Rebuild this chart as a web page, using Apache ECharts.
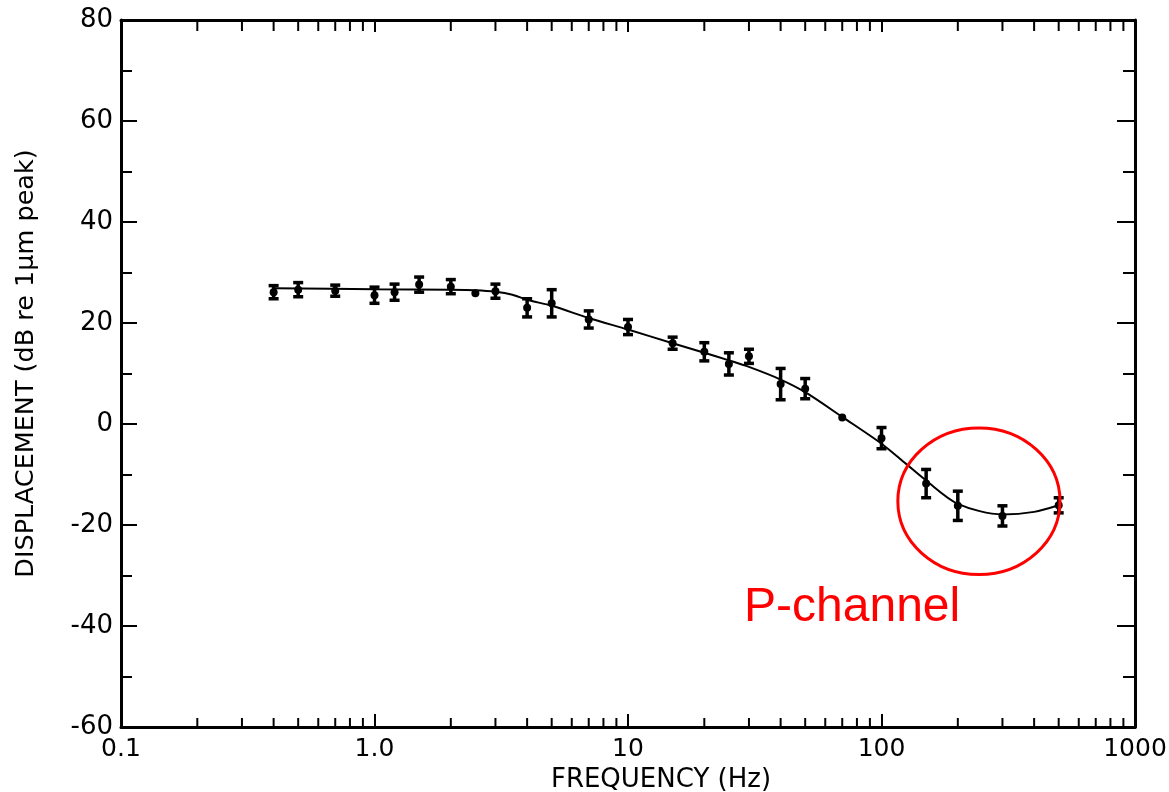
<!DOCTYPE html>
<html>
<head>
<meta charset="utf-8">
<script src="https://cdn.jsdelivr.net/npm/echarts@6/dist/echarts.min.js"></script>
<style>
  html, body { margin: 0; padding: 0; background: #fff; }
  #main { width: 1169px; height: 792px; }
</style>
</head>
<body>
<div id="main"></div>
<script>
// measured points (Hz, dB) with half error bar
var freqs = [0.4, 0.5, 0.7, 1.0, 1.2, 1.5, 2.0, 2.5, 3.0, 4.0, 5.0, 7.0, 10, 15, 20, 25, 30, 40, 50, 70, 100, 150, 200, 300, 500];
var values = [26.1, 26.6, 26.4, 25.5, 26.1, 27.6, 27.2, 25.9, 26.3, 23.0, 23.9, 20.7, 19.2, 16.0, 14.3, 11.9, 13.4, 7.9, 7.0, 1.3, -2.8, -11.8, -16.2, -18.2, -16.1];
var errors = [1.3, 1.4, 1.1, 1.6, 1.6, 1.5, 1.4, 0, 1.4, 1.8, 2.7, 1.7, 1.5, 1.2, 1.8, 2.2, 1.4, 3.1, 2.0, 0, 2.1, 2.8, 2.9, 2.0, 1.5];

// fitted curve
var curveFreqs = [0.4, 1, 2, 2.5, 3, 3.5, 4, 5, 7, 10, 15, 20, 25, 30, 40, 50, 70, 100, 125, 150, 200, 300, 400, 500];
var curveValues = [26.9, 26.7, 26.6, 26.5, 26.2, 25.6, 24.6, 23.4, 21.0, 18.7, 16.0, 14.1, 12.6, 11.3, 8.8, 6.3, 1.4, -3.9, -7.9, -11.2, -15.8, -17.9, -17.4, -16.1];

// minor ticks of the log axis
var minorTicks = [0.2, 0.3, 0.4, 0.5, 0.6, 0.7, 0.8, 0.9, 2, 3, 4, 5, 6, 7, 8, 9, 20, 30, 40, 50, 60, 70, 80, 90, 200, 300, 400, 500, 600, 700, 800, 900];

var xLabel = function (v) {
  return v >= 9.99 ? String(Math.round(v)) : v.toFixed(1);
};

var FONT = "DejaVu Sans";
var axisLineStyle = { color: "#000", width: 3 };

var myChart = echarts.init(document.getElementById("main"), null, { renderer: "canvas" });

var option = {
  backgroundColor: "#fff",
  animation: false,
  grid: { left: 121, right: 34, top: 20, bottom: 65, outerBoundsMode: "none", containLabel: false },
  xAxis: [
    {
      type: "log",
      logBase: 10,
      min: 0.1,
      max: 1000,
      position: "bottom",
      axisLine: { onZero: false, lineStyle: axisLineStyle },
      axisTick: { inside: true, length: 13, lineStyle: { color: "#000", width: 2 } },
      axisLabel: { formatter: xLabel, color: "#000", fontFamily: FONT, fontSize: 25, margin: 10 },
      splitLine: { show: false },
      name: "FREQUENCY (Hz)",
      nameLocation: "middle",
      nameGap: 40,
      nameTextStyle: { color: "#000", fontFamily: FONT, fontSize: 26, padding: [0, 0, 0, 66] },
    },
    {
      type: "log",
      logBase: 10,
      min: 0.1,
      max: 1000,
      position: "top",
      axisLine: { onZero: false, lineStyle: axisLineStyle },
      axisTick: { inside: true, length: 12, lineStyle: { color: "#000", width: 2 } },
      axisLabel: { show: false },
      splitLine: { show: false },
    },
  ],
  yAxis: [
    {
      type: "value",
      min: -60,
      max: 80,
      interval: 20,
      position: "left",
      axisLine: { onZero: false, lineStyle: axisLineStyle },
      axisTick: { inside: true, length: 16, lineStyle: { color: "#000", width: 2 } },
      minorTick: { show: true, splitNumber: 2, length: 11, lineStyle: { color: "#000", width: 2 } },
      axisLabel: { color: "#000", fontFamily: FONT, fontSize: 26, margin: 8 },
      splitLine: { show: false },
      name: "DISPLACEMENT (dB re 1μm peak)",
      nameLocation: "middle",
      nameGap: 82,
      nameTextStyle: { color: "#000", fontFamily: FONT, fontSize: 25.5, padding: [0, 0, 0, 20] },
    },
    {
      type: "value",
      min: -60,
      max: 80,
      interval: 20,
      position: "right",
      axisLine: { onZero: false, lineStyle: axisLineStyle },
      axisTick: { inside: true, length: 18, lineStyle: { color: "#000", width: 2 } },
      minorTick: { show: true, splitNumber: 2, length: 12, lineStyle: { color: "#000", width: 2 } },
      axisLabel: { show: false },
      splitLine: { show: false },
    },
  ],
  series: [
    {
      name: "fit",
      type: "line",
      smooth: 0.3,
      showSymbol: false,
      lineStyle: { color: "#000", width: 2 },
      data: curveFreqs.map(function (f, i) { return [f, curveValues[i]]; }),
      z: 2,
    },
    {
      name: "measured",
      type: "custom",
      encode: { x: 0, y: 1 },
      data: freqs.map(function (f, i) { return [f, values[i], errors[i]]; }),
      renderItem: function (params, api) {
        var f = api.value(0), v = api.value(1), e = api.value(2);
        var c = api.coord([f, v]);
        var kids = [
          { type: "circle", shape: { cx: c[0], cy: c[1], r: 4 }, style: { fill: "#000" } },
        ];
        if (e > 0) {
          var hi = api.coord([f, v + e]);
          var lo = api.coord([f, v - e]);
          var st = { stroke: "#000", lineWidth: 3.5 };
          kids.push({ type: "line", shape: { x1: c[0], y1: hi[1], x2: c[0], y2: lo[1] }, style: st });
          kids.push({ type: "line", shape: { x1: c[0] - 5, y1: hi[1], x2: c[0] + 5, y2: hi[1] }, style: st });
          kids.push({ type: "line", shape: { x1: c[0] - 5, y1: lo[1], x2: c[0] + 5, y2: lo[1] }, style: st });
        }
        return { type: "group", children: kids };
      },
      z: 3,
    },
    {
      name: "minor ticks",
      type: "custom",
      encode: { x: 0, y: 1 },
      silent: true,
      data: minorTicks.map(function (f) { return [f, -60]; }),
      renderItem: function (params, api) {
        var f = api.value(0);
        var b = api.coord([f, -60]);
        var t = api.coord([f, 80]);
        var st = { stroke: "#000", lineWidth: 2 };
        return {
          type: "group",
          children: [
            { type: "line", shape: { x1: b[0], y1: b[1], x2: b[0], y2: b[1] - 9 }, style: st },
            { type: "line", shape: { x1: t[0], y1: t[1], x2: t[0], y2: t[1] + 11 }, style: st },
          ],
        };
      },
      z: 1,
    },
  ],
};

myChart.setOption(option);

// red annotation around the high-frequency part
var pLeft = myChart.convertToPixel({ gridIndex: 0 }, [116, -15.3]);
var pRight = myChart.convertToPixel({ gridIndex: 0 }, [506, -15.3]);
var pTop = myChart.convertToPixel({ gridIndex: 0 }, [243, -0.8]);
var pBottom = myChart.convertToPixel({ gridIndex: 0 }, [243, -29.8]);
var pText = myChart.convertToPixel({ gridIndex: 0 }, [28.7, -41.2]);

myChart.setOption({
  graphic: [
    {
      type: "ellipse",
      shape: {
        cx: (pLeft[0] + pRight[0]) / 2,
        cy: (pTop[1] + pBottom[1]) / 2,
        rx: (pRight[0] - pLeft[0]) / 2,
        ry: (pBottom[1] - pTop[1]) / 2,
      },
      style: { fill: null, stroke: "#ff0000", lineWidth: 3 },
      z: 10,
    },
    {
      type: "text",
      x: pText[0],
      y: pText[1],
      style: {
        text: "P-channel",
        fill: "#ff0000",
        font: "48px 'Liberation Sans', Arial, sans-serif",
        textVerticalAlign: "bottom",
      },
      z: 10,
    },
  ],
});
</script>
</body>
</html>
